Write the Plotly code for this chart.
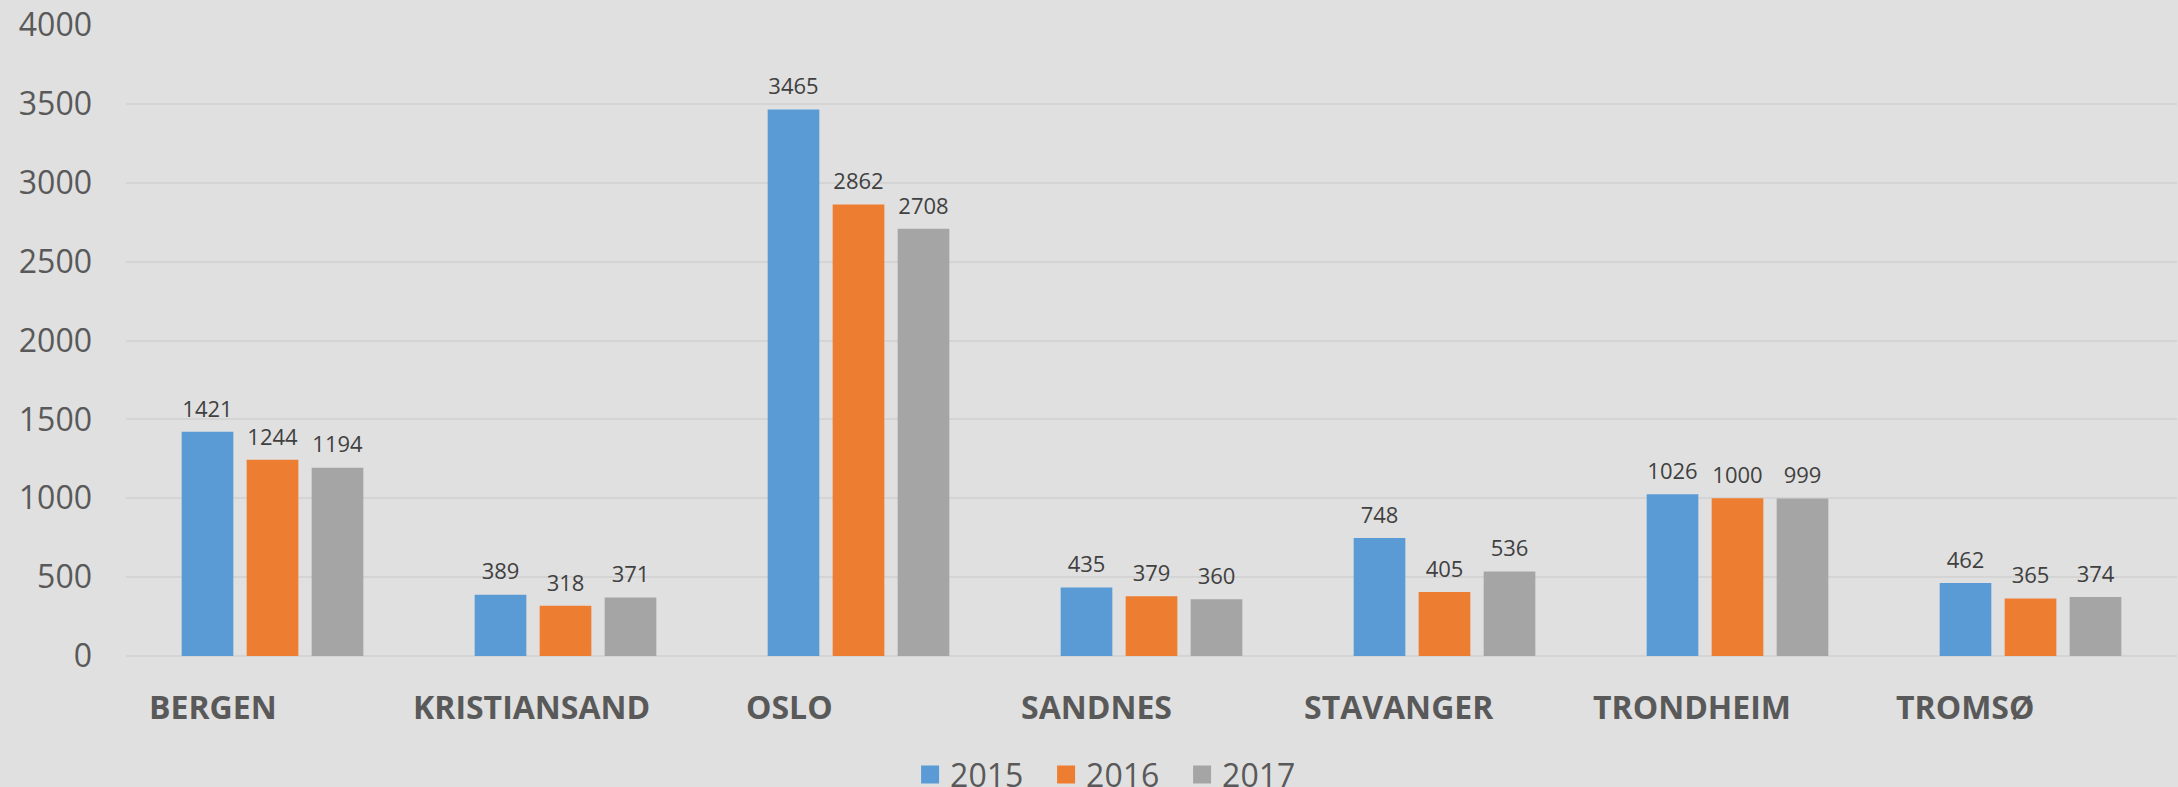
import plotly.graph_objects as go

cities = ["BERGEN", "KRISTIANSAND", "OSLO", "SANDNES", "STAVANGER", "TRONDHEIM", "TROMSØ"]
years = ["2015", "2016", "2017"]
v2015 = [1421, 389, 3465, 435, 748, 1026, 462]
v2016 = [1244, 318, 2862, 379, 405, 1000, 365]
v2017 = [1194, 371, 2708, 360, 536, 999, 374]
colors = ["#5B9BD5", "#ED7D31", "#A5A5A5"]
y_ticks = [0, 500, 1000, 1500, 2000, 2500, 3000, 3500, 4000]
# horizontal nudge (px) of each category label, as placed in the original
label_nudge = [-60, -34, -69, -55, -46, -46, -66]

fig = go.Figure()
for name, vals, col in zip(years, [v2015, v2016, v2017], colors):
    fig.add_trace(go.Bar(
        x=cities, y=vals, name=name, marker=dict(color=col, line=dict(width=0)),
        offsetgroup=name, alignmentgroup="all",
        showlegend=False,
    ))
    fig.add_trace(go.Scatter(
        x=cities, y=vals, name=name, mode="markers+text",
        offsetgroup=name, alignmentgroup="all",
        text=[str(v) for v in vals], textposition="top center",
        textfont=dict(family="Open Sans", size=22, color="#404040"),
        marker=dict(size=14, opacity=0, color=col),
        cliponaxis=False, showlegend=False, hoverinfo="skip",
    ))
    fig.add_trace(go.Scatter(
        x=[None], y=[None], mode="markers", name=name,
        marker=dict(symbol="square", size=16, color=col, line=dict(width=2, color=col)),
    ))

for city, dx in zip(cities, label_nudge):
    fig.add_annotation(
        x=city, xref="x", y=0, yref="paper", yanchor="top", xanchor="center",
        xshift=dx, yshift=-27, text=city, showarrow=False,
        font=dict(family="Open Sans", size=32, color="#595959", weight="bold"),
    )

fig.update_layout(
    width=2178, height=787,
    paper_bgcolor="#E0E0E0", plot_bgcolor="#E0E0E0",
    margin=dict(l=126, r=1, t=25, b=131, autoexpand=False),
    barmode="group", bargap=0.3345, bargroupgap=0.205,
    scattermode="group",
    font=dict(family="Open Sans", color="#595959"),
    legend=dict(orientation="h", x=0.3823, xanchor="left", y=-0.188, yanchor="middle",
                font=dict(family="Open Sans", size=32, color="#595959"),
                entrywidth=91, bgcolor="rgba(0,0,0,0)"),
)
fig.update_xaxes(
    showgrid=False, zeroline=False, showline=False, ticks="", showticklabels=False,
)
fig.update_yaxes(
    range=[0, 4000], tickvals=y_ticks, ticktext=[str(t) for t in y_ticks],
    showgrid=True, gridcolor="#D4D4D4", gridwidth=2,
    zeroline=True, zerolinecolor="#D4D4D4", zerolinewidth=2,
    showline=False, ticks="",
    tickfont=dict(family="Open Sans", size=32, color="#595959"),
    ticklabelstandoff=33,
)

fig.write_html(
    "out.html",
    config={"displayModeBar": False},
    post_script="document.body.style.margin='0';document.body.style.background='#E0E0E0';",
)
